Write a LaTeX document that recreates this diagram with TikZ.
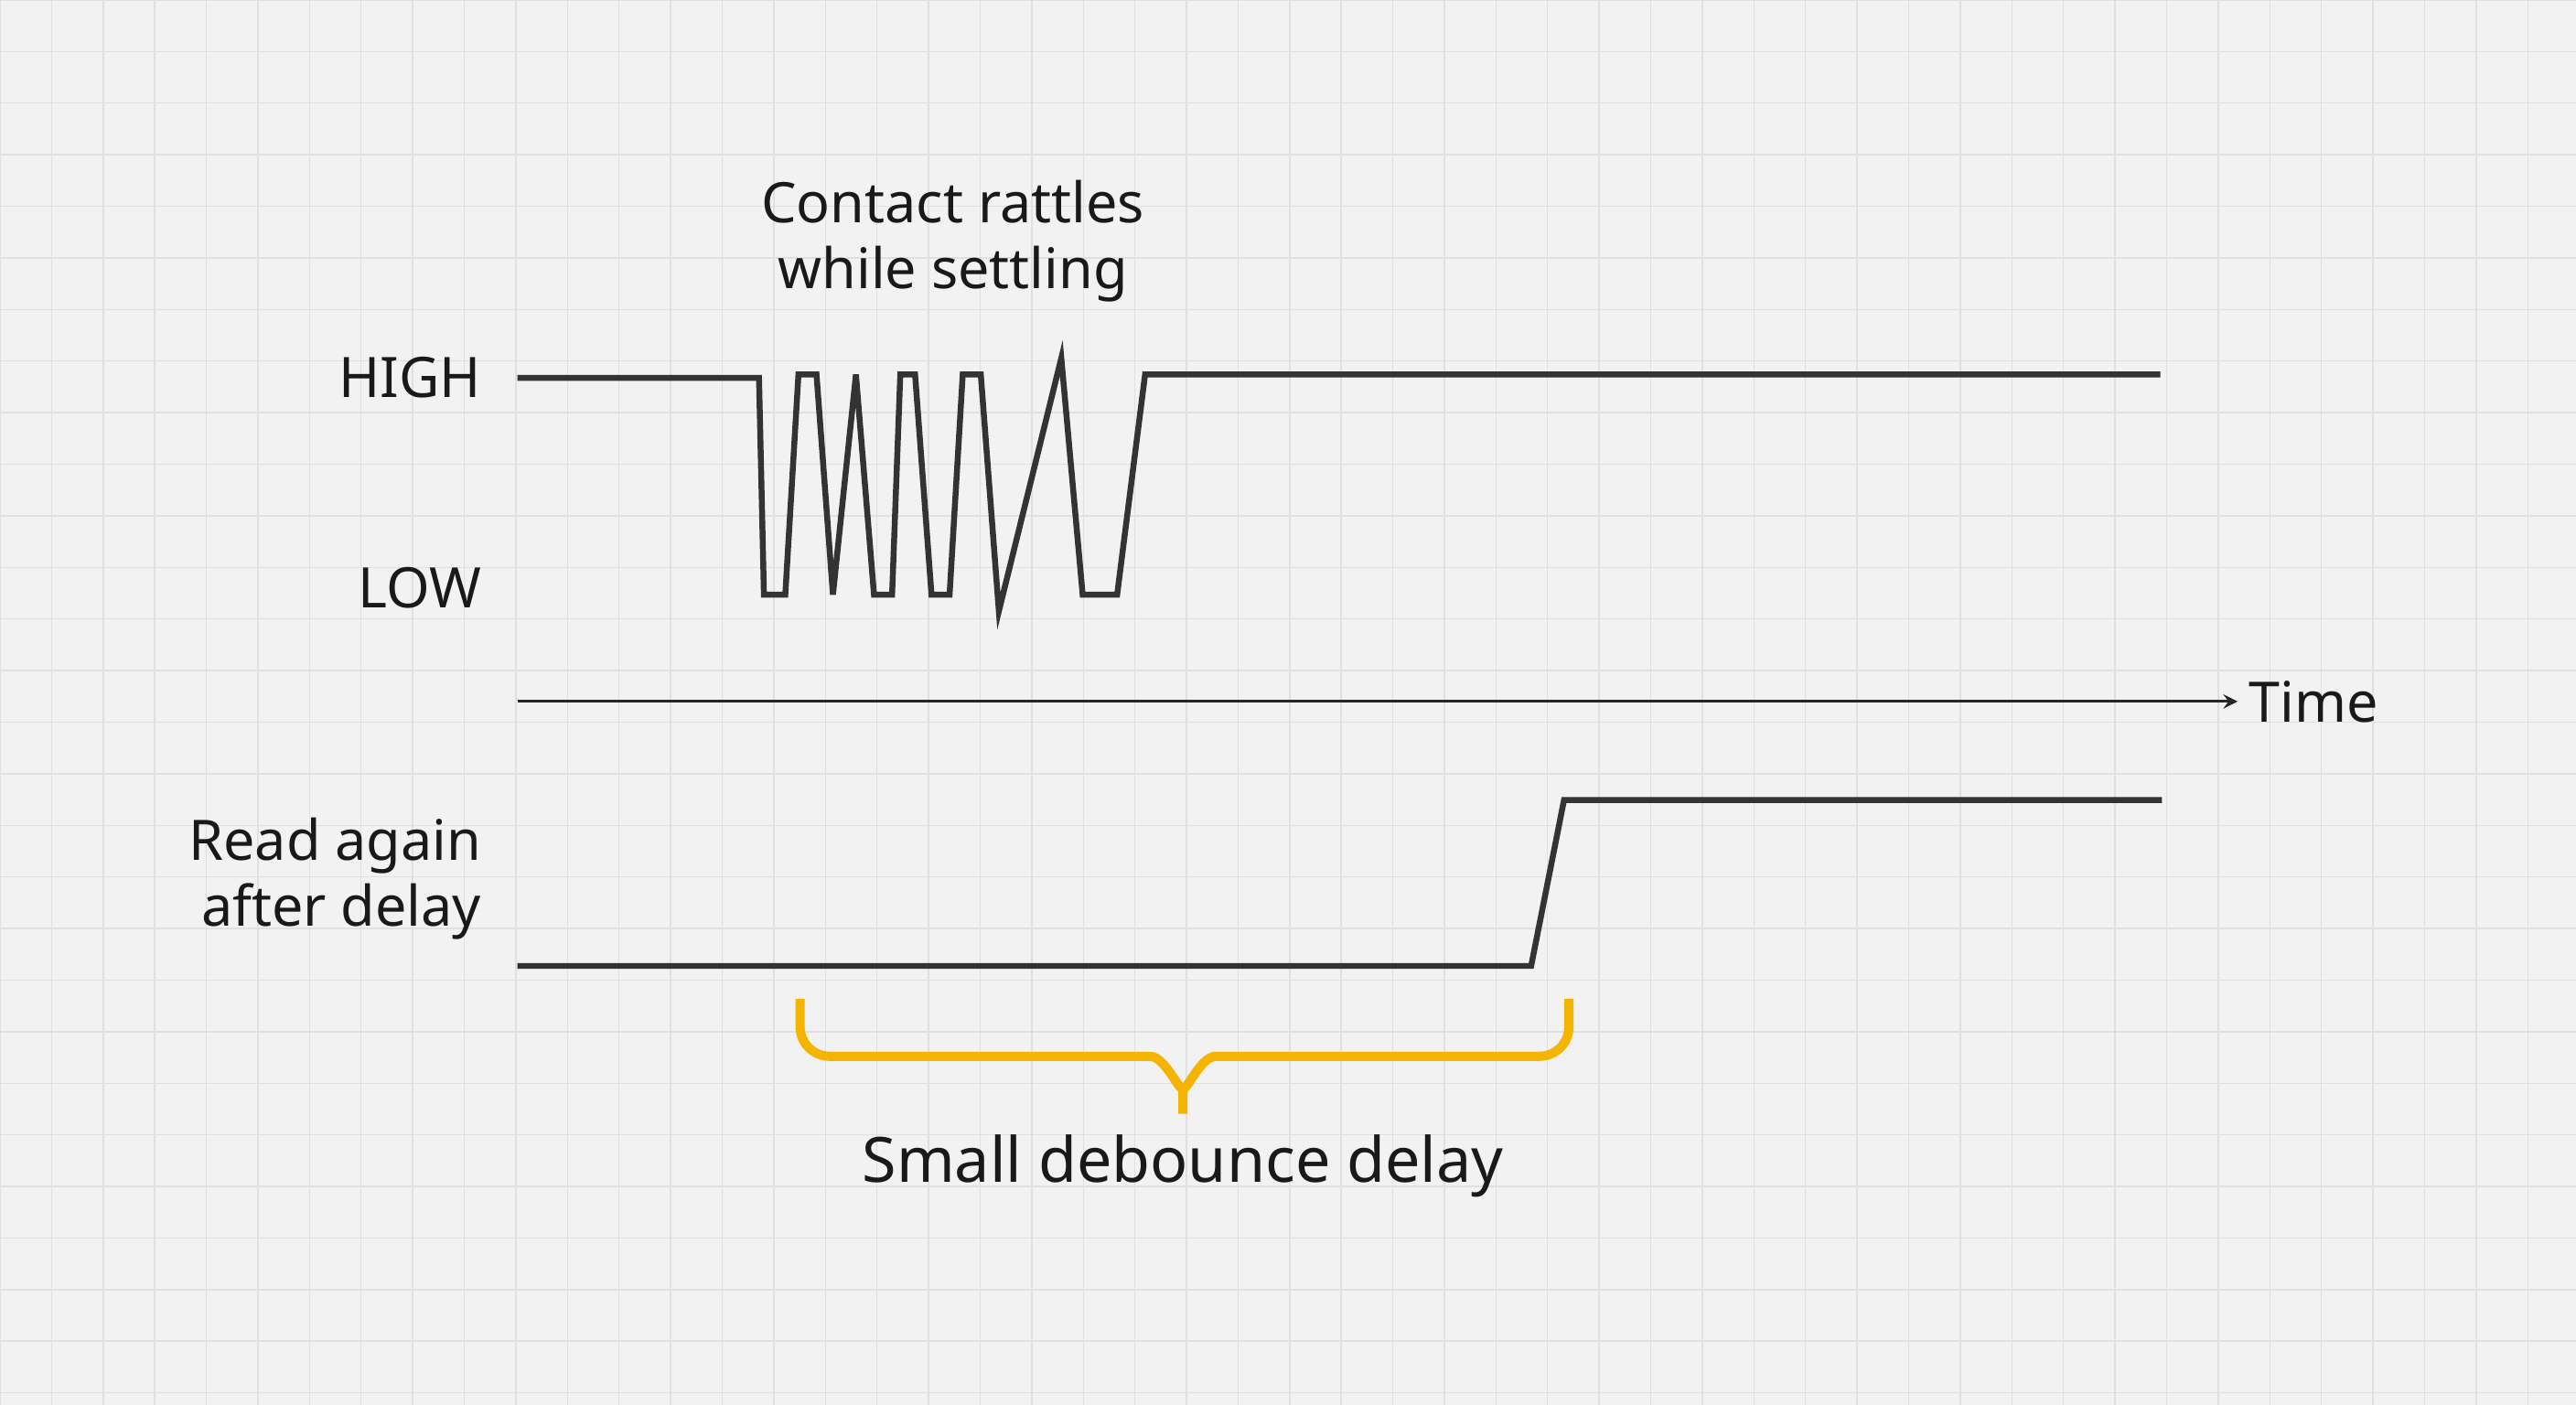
\documentclass[tikz,border=0pt]{standalone}
\usepackage{fontspec}
\setmainfont{Noto Sans}
\definecolor{bry}{HTML}{F5B400}
\begin{document}
\begin{tikzpicture}[x=0.5pt,y=-0.5pt,
  sig/.style={line width=1.8pt,draw=black!80,line join=miter},
  lbl/.style={font=\fontsize{17}{20}\selectfont,text=black!90},
  brace/.style={line width=2.8pt,draw=bry,line cap=butt}]
\fill[black!5] (0,0) rectangle (1568,855);
\useasboundingbox (0,0) rectangle (1568,855);
\foreach \i in {0,...,50}{\draw[black!12,line width=0.4pt] (\i*31.4,0) -- (\i*31.4,855);}
\foreach \j in {0,...,27}{\draw[black!12,line width=0.4pt] (0,\j*31.4) -- (1568,\j*31.4);}
\draw[sig] (315,230) -- (462,230) -- (465,362) -- (478,362) -- (486,228) -- (497,228) -- (507,362) -- (521,228) -- (532,362) -- (543,362) -- (548,228) -- (557,228) -- (567,362) -- (578,362) -- (586,228) -- (597,228) -- (608,372) -- (646,218) -- (659,362) -- (680,362) -- (697,228) -- (1315,228);
\coordinate (t0) at (315,427);
\node[lbl,anchor=west] (time) at (1362,427) {Time};
\draw[line width=0.9pt,black!85,-stealth] (t0) -- (time.west);
\draw[sig] (315,588) -- (932,588) -- (952,487) -- (1316,487);
\draw[brace] (487,608) -- (487,625) to[out=-90,in=180] (505,643) -- (700,643) to[out=0,in=-90] (720,660) -- (720,678);
\draw[brace] (955,608) -- (955,625) to[out=-90,in=0] (937,643) -- (740,643) to[out=180,in=-90] (720,660);
\node[lbl,anchor=east] (high) at (300,230) {HIGH};
\node[lbl,anchor=east] (low) at (300,358) {LOW};
\node[lbl,anchor=east,align=right] (read) at (300,535) {Read again\\after delay};
\node[lbl,align=center] (title) at (580,147) {Contact rattles\\while settling};
\node[lbl,font=\fontsize{19}{22}\selectfont] (small) at (720,710) {Small debounce delay};
\end{tikzpicture}
\end{document}
